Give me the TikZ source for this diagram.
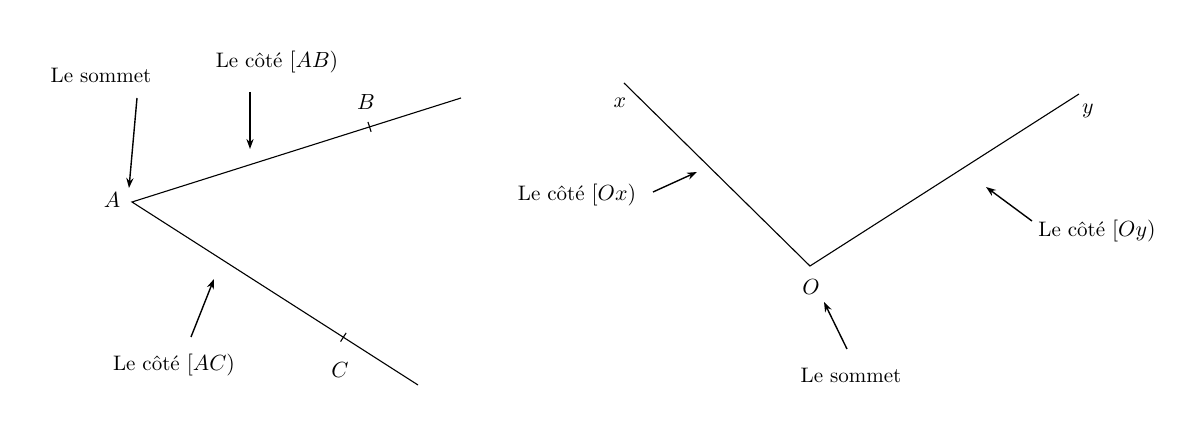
\documentclass[tikz,border=0pt]{standalone}
\usetikzlibrary{arrows.meta,calc}
\begin{document}
\begin{tikzpicture}[x=0.5pt,y=-0.5pt,
  ray/.style={line width=0.55pt},
  tick/.style={line width=0.55pt},
  callout/.style={line width=0.7pt,-{Stealth[length=5pt,width=3.6pt]}},
  lbl/.style={inner sep=0pt,font=\fontsize{10.5}{12}\selectfont},
  pt/.style={inner sep=0pt,font=\fontsize{10.5}{12}\selectfont}]
\useasboundingbox (0,0) rectangle (1196,432);
% left angle
\coordinate (A) at (132,202);
\coordinate (Bend) at (461,98);
\coordinate (Cend) at (418,385);
\draw[ray] (Bend) -- (A) -- (Cend);
\path (A) -- (Bend) coordinate[pos=0.722] (tB);
\path (A) -- (Cend) coordinate[pos=0.739] (tC);
\draw[tick] ($(tB)!2.6pt!90:(Bend)$) -- ($(tB)!2.6pt!-90:(Bend)$);
\draw[tick] ($(tC)!2.6pt!90:(Cend)$) -- ($(tC)!2.6pt!-90:(Cend)$);
\node[pt] (lA) at (112,200) {$A$};
\node[pt] (lB) at (366,102) {$B$};
\node[pt] (lC) at (340,370) {$C$};
\node[lbl] (som1) at (101,75) {Le sommet};
\node[lbl] (cAB) at (277,62) {Le côté $[AB)$};
\node[lbl] (cAC) at (174,365) {Le côté $[AC)$};
\coordinate (s1a) at (137,98);  \coordinate (s1b) at (129,188);
\coordinate (ab1) at (250,92);  \coordinate (ab2) at (250,149);
\coordinate (ac1) at (191,337); \coordinate (ac2) at (214,279);
\draw[callout] (s1a) -- (s1b);
\draw[callout] (ab1) -- (ab2);
\draw[callout] (ac1) -- (ac2);
% right angle
\coordinate (O) at (810,266);
\coordinate (Xend) at (624,83);
\coordinate (Yend) at (1079,94);
\draw[ray] (Xend) -- (O) -- (Yend);
\node[pt] (lx) at (620,103) {$x$};
\node[pt] (ly) at (1088,111) {$y$};
\node[pt] (lO) at (811,287) {$O$};
\node[lbl] (cOx) at (577,195) {Le côté $[Ox)$};
\node[lbl] (cOy) at (1097,231) {Le côté $[Oy)$};
\node[lbl] (som2) at (851,375) {Le sommet};
\coordinate (ox1) at (653,192);  \coordinate (ox2) at (697,172);
\coordinate (oy1) at (1032,221); \coordinate (oy2) at (986,187);
\coordinate (s2a) at (847,349);  \coordinate (s2b) at (824,302);
\draw[callout] (ox1) -- (ox2);
\draw[callout] (oy1) -- (oy2);
\draw[callout] (s2a) -- (s2b);
\end{tikzpicture}
\end{document}
